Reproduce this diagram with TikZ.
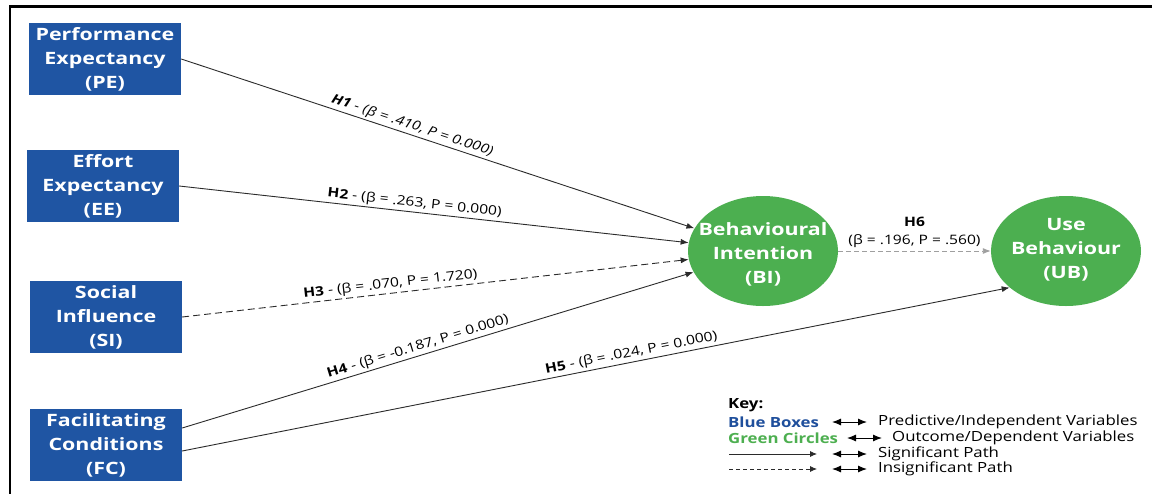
\documentclass[tikz,border=0pt]{standalone}
\usepackage{fontspec}
\setmainfont[FakeStretch=1.2]{Open Sans}
\newfontfamily\boxfont[FakeStretch=1.26]{Open Sans}
\usetikzlibrary{arrows.meta,shapes.geometric}
\definecolor{boxblue}{HTML}{1F55A3}
\definecolor{keyblue}{HTML}{1F4F9C}
\definecolor{circgreen}{HTML}{4CAF50}
\definecolor{keygreen}{HTML}{4DAF50}
\definecolor{linegray}{HTML}{2B2B2B}
\begin{document}
\begin{tikzpicture}[x=1pt,y=-1pt,
  varbox/.style={rectangle, fill=boxblue, minimum width=152pt, minimum height=72pt, inner sep=0pt, text=white, align=center, font=\boxfont\fontsize{17}{24}\selectfont\bfseries},
  outc/.style={ellipse, fill=circgreen, minimum width=150pt, minimum height=110pt, inner sep=0pt},
  outctext/.style={text=white, align=center, font=\boxfont\fontsize{17}{24}\selectfont\bfseries, inner sep=0pt},
  sig/.style={draw=linegray, line width=0.9pt, -{Latex[length=8pt,width=6pt]}},
  insig/.style={sig, dash pattern=on 7pt off 4pt},
  insiglight/.style={draw=gray!75, line width=0.9pt, dash pattern=on 5pt off 3pt, -{Latex[length=8pt,width=6pt]}},
  lab/.style={sloped, above, inner sep=2pt, font=\fontsize{13}{16}\selectfont, text=black},
  keyt/.style={anchor=west, inner sep=0pt, font=\fontsize{14}{16}\selectfont},
  dbl/.style={draw=black, line width=1pt, {Latex[length=9pt,width=7pt]}-{Latex[length=9pt,width=7pt]}},
  samp/.style={draw=linegray, line width=0.8pt, -{Latex[length=7pt,width=6pt]}},
]
\useasboundingbox (0,0) rectangle (1152,493);
\fill[white] (0,0) rectangle (1152,493);
\draw[line width=2.4pt, line cap=rect] (10,493) -- (10,6.5) -- (1152,6.5);

% predictor boxes
\node[varbox] (PE) at (105,59)  {Performance\\Expectancy\\(PE)};
\node[varbox] (EE) at (103,186) {Effort\\Expectancy\\(EE)};
\node[varbox] (SI) at (106,317) {Social\\Influence\\(SI)};
\node[varbox] (FC) at (106,445) {Facilitating\\Conditions\\(FC)};

% outcome ellipses
\node[outc] (BI) at (763,251) {};
\node[outctext] (BIt) at (763,254) {Behavioural\\Intention\\(BI)};
\node[outc] (UB) at (1066,251) {};
\node[outctext] (UBt) at (1066,250) {Use\\Behaviour\\(UB)};

% paths
\draw[sig] (PE.east) -- node[lab, pos=0.445] {\itshape\textbf{H1} - (β = .410, P = 0.000)} (BI);
\draw[sig] (EE.east) -- node[lab, pos=0.46] {\textbf{H2} - (β = .263, P = 0.000)} (BI);
\draw[insig] (SI.east) -- node[lab, pos=0.413] {\textbf{H3} - (β = .070, P = 1.720)} (BI);
\draw[sig] ([yshift=17pt]FC.east) -- node[lab, pos=0.466] {\textbf{H4} - (β = -0.187, P = 0.000)} (BI);
\draw[sig] ([yshift=-6pt]FC.east) -- node[lab, pos=0.545] {\textbf{H5} - (β = .024, P = 0.000)} (UB.213);
\draw[insiglight] (BI.east) -- node[above, align=center, inner sep=3pt, font=\fontsize{13}{18}\selectfont] {\textbf{H6}\\(β = .196, P = .560)} (UB.west);

% key
\node[keyt, font=\fontsize{14}{16}\selectfont\bfseries] (key) at (728,405) {Key:};
\node[keyt, font=\fontsize{14}{16}\selectfont\bfseries, text=keyblue] (kb) at (728,422) {Blue Boxes};
\node[keyt, font=\fontsize{14}{16}\selectfont\bfseries, text=keygreen] (kg) at (728,438) {Green Circles};
\node[keyt] (kt1) at (878,422) {Predictive/Independent Variables};
\node[keyt] (kt2) at (892,438) {Outcome/Dependent Variables};
\node[keyt] (kt3) at (878,454) {Significant Path};
\node[keyt] (kt4) at (878,469) {Insignificant Path};

\coordinate (a1l) at (832,422); \coordinate (a1r) at (867,422);
\coordinate (a2l) at (847,438); \coordinate (a2r) at (882,438);
\coordinate (a3l) at (832,454); \coordinate (a3r) at (867,454);
\coordinate (a4l) at (832,469); \coordinate (a4r) at (867,469);
\draw[dbl] (a1l) -- (a1r);
\draw[dbl] (a2l) -- (a2r);
\draw[dbl] (a3l) -- (a3r);
\draw[dbl] (a4l) -- (a4r);

\coordinate (s3l) at (729,454); \coordinate (s3r) at (817,454);
\coordinate (s4l) at (729,469); \coordinate (s4r) at (817,469);
\draw[samp] (s3l) -- (s3r);
\draw[samp, dash pattern=on 4pt off 3pt] (s4l) -- (s4r);
\end{tikzpicture}
\end{document}
